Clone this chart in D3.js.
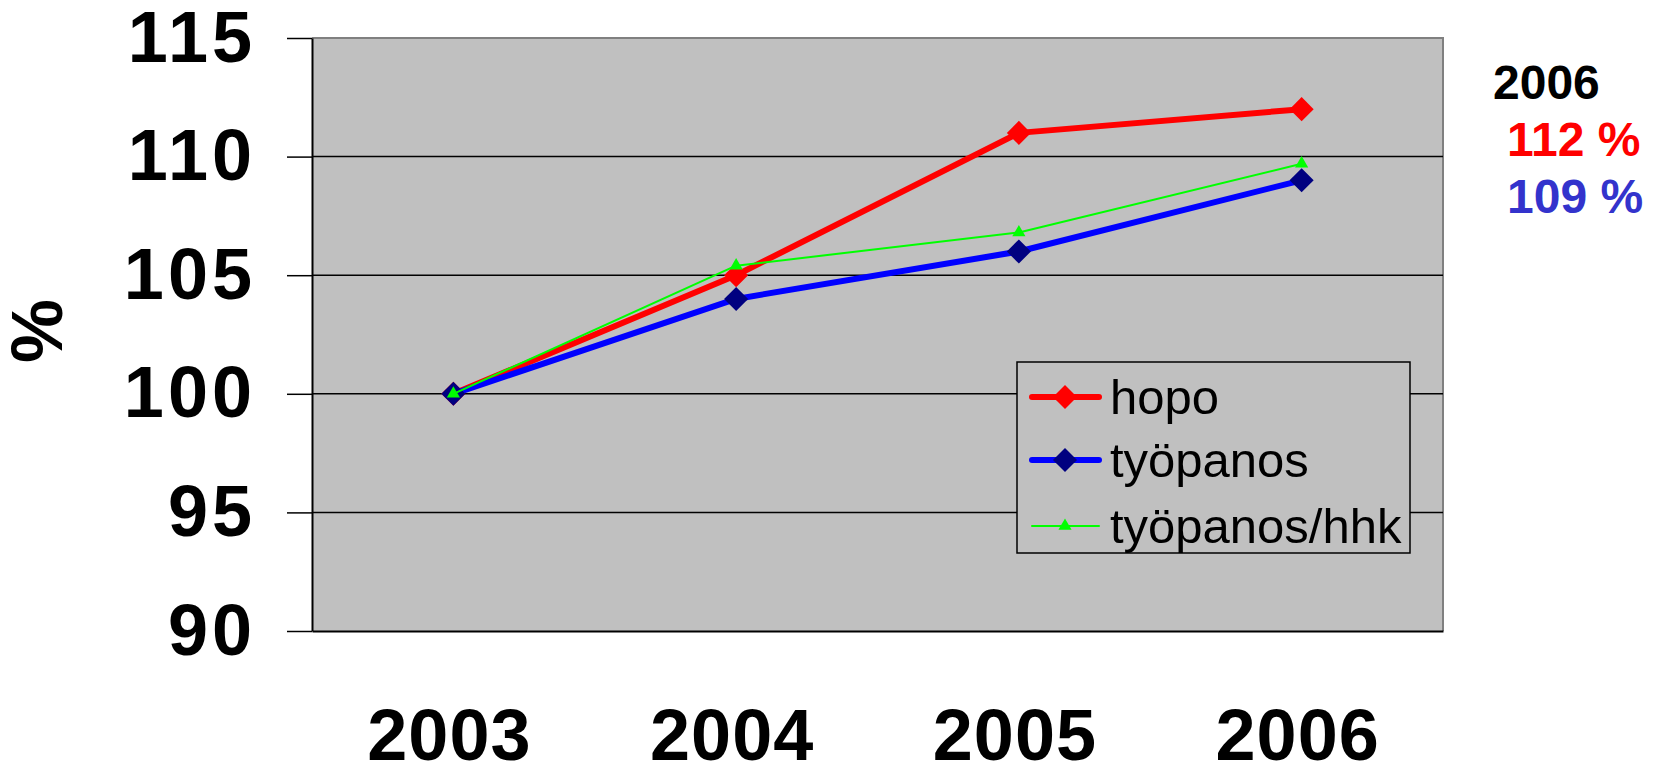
<!DOCTYPE html>
<meta charset="utf-8">
<title>hopo / työpanos</title>
<style>
  body { margin: 0; background: #fff; }
  svg { display: block; font-family: "Liberation Sans", Arial, sans-serif; }
</style>
<body>
<svg id="chart" width="1655" height="764"></svg>
<script src="https://d3js.org/d3.v7.min.js"></script>
<script>

var years = ["2003", "2004", "2005", "2006"];
var hopo = [100, 105, 111, 112];
var tyopanos = [100, 104, 106, 109];
var tyopanosHhk = [100, 105.4, 106.8, 109.7];
var yTicks = [90, 95, 100, 105, 110, 115];
var noteLines = ["2006", "112 %", "109 %"];

var series = [
  {name: "hopo", values: hopo, line: "#ff0000", marker: "#ff0000", width: 6, shape: "diamond"},
  {name: "työpanos", values: tyopanos, line: "#0000ff", marker: "#000080", width: 6, shape: "diamond"},
  {name: "työpanos/hhk", values: tyopanosHhk, line: "#00ff00", marker: "#00ff00", width: 2, shape: "triangle"}
];

var plot = {left: 312, right: 1443, top: 38, bottom: 631};

var svg = d3.select("#chart");

var x = d3.scaleBand()
    .domain(years)
    .range([plot.left, plot.right])
    .padding(0);

var y = d3.scaleLinear()
    .domain([90, 115])
    .range([plot.bottom, plot.top]);

// plot background
svg.append("rect")
    .attr("x", plot.left)
    .attr("y", plot.top)
    .attr("width", plot.right - plot.left)
    .attr("height", plot.bottom - plot.top)
    .attr("fill", "#c0c0c0");

// top + right border (grey)
svg.append("path")
    .attr("d", "M" + plot.left + "," + plot.top + "H" + plot.right + "V" + plot.bottom)
    .attr("fill", "none")
    .attr("stroke", "#808080")
    .attr("stroke-width", 2);

// gridlines
svg.append("g").selectAll("line")
    .data(yTicks.filter(function(d) { return d > 90 && d < 115; }))
    .enter().append("line")
      .attr("x1", plot.left)
      .attr("x2", plot.right)
      .attr("y1", function(d) { return y(d); })
      .attr("y2", function(d) { return y(d); })
      .attr("stroke", "#000")
      .attr("stroke-width", 1.5);

// y axis
var yAxis = svg.append("g")
    .attr("transform", "translate(" + plot.left + ",0)")
    .call(d3.axisLeft(y).tickValues(yTicks).tickSize(25).tickSizeOuter(0).tickPadding(31));
yAxis.select(".domain").attr("stroke", "#000").attr("stroke-width", 2);
yAxis.selectAll(".tick line").attr("stroke", "#000").attr("stroke-width", 1.5);
yAxis.selectAll("text")
    .attr("font-family", "'Liberation Sans', Arial, sans-serif")
    .attr("font-size", 72)
    .attr("font-weight", "bold")
    .attr("letter-spacing", 4)
    .attr("fill", "#000");

// x axis
var xAxis = svg.append("g")
    .attr("transform", "translate(0," + plot.bottom + ")")
    .call(d3.axisBottom(x).tickSize(0).tickSizeOuter(0).tickPadding(78));
xAxis.select(".domain").attr("stroke", "#000").attr("stroke-width", 2);
xAxis.selectAll("text")
    .attr("font-family", "'Liberation Sans', Arial, sans-serif")
    .attr("font-size", 72)
    .attr("font-weight", "bold")
    .attr("letter-spacing", 1)
    .attr("dx", -4)
    .attr("fill", "#000");

// y axis title
svg.append("text")
    .attr("transform", "translate(62,331) rotate(-90)")
    .attr("text-anchor", "middle")
    .attr("font-size", 72)
    .attr("font-weight", "bold")
    .text("%");

var symbolFor = function(shape) {
  return shape === "diamond"
    ? d3.symbol().type(d3.symbolSquare).size(290)
    : d3.symbol().type(d3.symbolTriangle).size(75);
};

var line = d3.line()
    .x(function(d, i) { return x(years[i]) + x.bandwidth() / 2; })
    .y(function(d) { return y(d); });

series.forEach(function(s) {
  var g = svg.append("g");
  g.append("path")
      .datum(s.values)
      .attr("d", line)
      .attr("fill", "none")
      .attr("stroke", s.line)
      .attr("stroke-width", s.width)
      .attr("stroke-linejoin", "round");
  g.selectAll("path.marker")
      .data(s.values)
      .enter().append("path")
        .attr("class", "marker")
        .attr("d", symbolFor(s.shape))
        .attr("transform", function(d, i) {
          var t = "translate(" + (x(years[i]) + x.bandwidth() / 2) + "," + y(d) + ")";
          return s.shape === "diamond" ? t + " rotate(45)" : t;
        })
        .attr("fill", s.marker);
});

// legend
var legend = svg.append("g");
legend.append("rect")
    .attr("x", 1017)
    .attr("y", 362)
    .attr("width", 393)
    .attr("height", 191)
    .attr("fill", "#c0c0c0")
    .attr("stroke", "#000")
    .attr("stroke-width", 1.5);

var rowY = [397, 460, 526];
series.forEach(function(s, i) {
  var row = legend.append("g").attr("transform", "translate(0," + rowY[i] + ")");
  row.append("line")
      .attr("x1", 1032)
      .attr("x2", 1099)
      .attr("stroke", s.line)
      .attr("stroke-width", s.width)
      .attr("stroke-linecap", "round");
  row.append("path")
      .attr("d", symbolFor(s.shape))
      .attr("transform", "translate(1065,0)" + (s.shape === "diamond" ? " rotate(45)" : ""))
      .attr("fill", s.marker);
  row.append("text")
      .attr("x", 1110)
      .attr("y", 17)
      .attr("font-size", 49)
      .attr("fill", "#000")
      .text(s.name);
});

// 2006 note on the right
var noteColors = ["#000000", "#ff0000", "#3333cc"];
var noteX = [1493, 1507, 1507];
var noteY = [99, 156, 213];
svg.append("g").selectAll("text")
    .data(noteLines)
    .enter().append("text")
      .attr("x", function(d, i) { return noteX[i]; })
      .attr("y", function(d, i) { return noteY[i]; })
      .attr("font-size", 48)
      .attr("font-weight", "bold")
      .attr("fill", function(d, i) { return noteColors[i]; })
      .text(function(d) { return d; });

</script>
</body>
